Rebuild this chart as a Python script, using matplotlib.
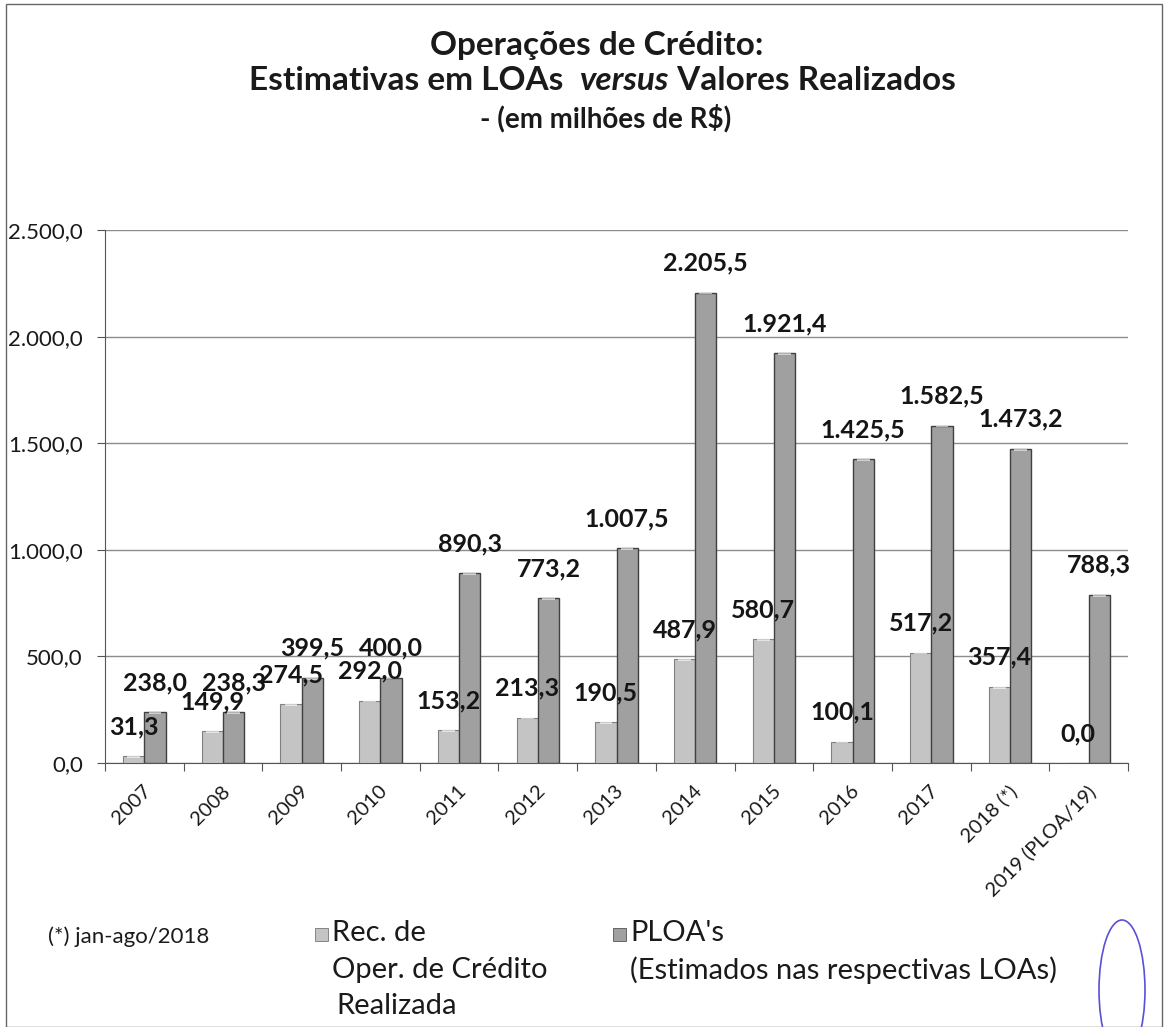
import matplotlib
matplotlib.use("Agg")
import matplotlib.pyplot as plt
from matplotlib.patches import Rectangle, Ellipse
import matplotlib.transforms as mtransforms
import numpy as np

categories = ["2007", "2008", "2009", "2010", "2011", "2012", "2013", "2014",
              "2015", "2016", "2017", "2018 (*)", "2019 (PLOA/19)"]
realizado = [31.3, 149.9, 274.5, 292.0, 153.2, 213.3, 190.5, 487.9, 580.7,
             100.1, 517.2, 357.4, 0.0]
ploa = [238.0, 238.3, 399.5, 400.0, 890.3, 773.2, 1007.5, 2205.5, 1921.4,
        1425.5, 1582.5, 1473.2, 788.3]
yticks = [0, 500, 1000, 1500, 2000, 2500]

FONT = "Lato"
plt.rcParams['font.family'] = [FONT, 'DejaVu Sans']

W, H = 1171, 1027
fig = plt.figure(figsize=(W / 100, H / 100), dpi=100)
fig.patch.set_facecolor("white")

def fx(px):
    return px / W

def fy(py):
    return 1 - py / H

ax = fig.add_axes([fx(105), fy(763), fx(1128) - fx(105), fy(230) - fy(763)])

def br(v):
    s = f"{v:,.1f}"
    return s.replace(",", "X").replace(".", ",").replace("X", ".")

x = np.arange(len(categories))
bw = 0.27
c_real = "#c4c4c4"
c_ploa = "#a0a0a0"
b1 = ax.bar(x - bw / 2, realizado, bw, color=c_real, edgecolor="#808080", linewidth=0.8, zorder=3)
b2 = ax.bar(x + bw / 2, ploa, bw, color=c_ploa, edgecolor="#404040", linewidth=1.0, zorder=3)

# highlight caps to mimic the rounded/gradient tops
for bars in (b1, b2):
    for r in bars:
        h = r.get_height()
        if h > 0:
            ax.add_patch(Rectangle((r.get_x() + r.get_width() * 0.2, h - 8),
                                   r.get_width() * 0.6, 8, color="white", alpha=0.6,
                                   zorder=4, linewidth=0))

for xi, v in zip(x - bw / 2, realizado):
    ax.annotate(br(v), (xi, v), xytext=(0, 13), textcoords="offset points",
                ha="center", va="bottom", fontsize=18, fontweight="bold",
                color="#151515", zorder=6)
for xi, v in zip(x + bw / 2, ploa):
    ax.annotate(br(v), (xi, v), xytext=(0, 13), textcoords="offset points",
                ha="center", va="bottom", fontsize=18, fontweight="bold",
                color="#151515", zorder=6)

ax.set_ylim(0, 2500)
ax.set_xlim(-0.5, len(categories) - 0.5)
ax.set_yticks(yticks)
ax.set_yticklabels([br(v) for v in yticks], fontsize=16, color="#1a1a1a")
ax.yaxis.grid(True, color="#8c8c8c", linewidth=1.0, zorder=0)
ax.set_axisbelow(True)
ax.tick_params(axis="y", length=6, color="#555555", pad=10)
for s in ["top", "right"]:
    ax.spines[s].set_visible(False)
ax.spines["left"].set_color("#555555")
ax.spines["bottom"].set_color("#555555")

ax.set_xticks(np.arange(-0.5, len(categories), 1.0), minor=False)
ax.set_xticklabels([])
ax.tick_params(axis="x", which="major", length=6, direction="out", color="#555555")
ax.set_xticks(x, minor=True)
ax.set_xticklabels(categories, minor=True, rotation=45, ha="right",
                   rotation_mode="anchor", fontsize=14.5, color="#1a1a1a")
ax.tick_params(axis="x", which="minor", length=0, pad=14)
offset = mtransforms.ScaledTranslation(-2 / 100, 0, fig.dpi_scale_trans)
for lab in ax.xaxis.get_minorticklabels():
    lab.set_transform(lab.get_transform() + offset)

# Title
fig.text(fx(597), fy(45), "Operações de Crédito:", ha="center", va="center",
         fontsize=24, fontweight="bold", color="#1a1a1a")
fig.canvas.draw()
renderer = fig.canvas.get_renderer()
parts = [("Estimativas em LOAs  ", "normal"), ("versus", "italic"), (" Valores Realizados", "normal")]
texts = []
for s, st in parts:
    t = fig.text(0, fy(81), s, ha="left", va="center", fontsize=24,
                 fontweight="bold", style=st, color="#1a1a1a")
    texts.append(t)
widths = [t.get_window_extent(renderer).width for t in texts]
total = sum(widths)
cur = 602 - total / 2
for t, w in zip(texts, widths):
    t.set_x(fx(cur))
    cur += w
fig.text(fx(606), fy(118), "- (em milhões de R$)", ha="center", va="center",
         fontsize=20, fontweight="bold", color="#1a1a1a")

# Note and legend
fig.text(fx(48), fy(937), "(*) jan-ago/2018", ha="left", va="center",
         fontsize=16, color="#1a1a1a")
fig.patches.append(Rectangle((fx(315), fy(941)), fx(13), fy(928) - fy(941),
                             transform=fig.transFigure, facecolor=c_real,
                             edgecolor="#777777", linewidth=0.6))
fig.text(fx(332), fy(933), "Rec. de", ha="left", va="center", fontsize=21, color="#1a1a1a")
fig.text(fx(332), fy(970), "Oper. de Crédito", ha="left", va="center", fontsize=21, color="#1a1a1a")
fig.text(fx(336), fy(1006), "Realizada", ha="left", va="center", fontsize=21, color="#1a1a1a")
fig.patches.append(Rectangle((fx(613), fy(941)), fx(13), fy(928) - fy(941),
                             transform=fig.transFigure, facecolor=c_ploa,
                             edgecolor="#555555", linewidth=0.6))
fig.text(fx(630), fy(933), "PLOA's", ha="left", va="center", fontsize=21, color="#1a1a1a")
fig.text(fx(630), fy(970), "(Estimados nas respectivas LOAs)", ha="left", va="center",
         fontsize=21, color="#1a1a1a")

# page border
fig.patches.append(Rectangle((fx(6), fy(1027)), fx(1162) - fx(6), fy(4) - fy(1027),
                             transform=fig.transFigure, fill=False,
                             edgecolor="#666666", linewidth=1.0))
# ink mark
fig.patches.append(Ellipse((fx(1122), fy(990)), fx(46), fy(920) - fy(1060),
                           transform=fig.transFigure, fill=False,
                           edgecolor="#5a4fd8", linewidth=1.2))

fig.savefig("out.png", dpi=100, facecolor="white")
